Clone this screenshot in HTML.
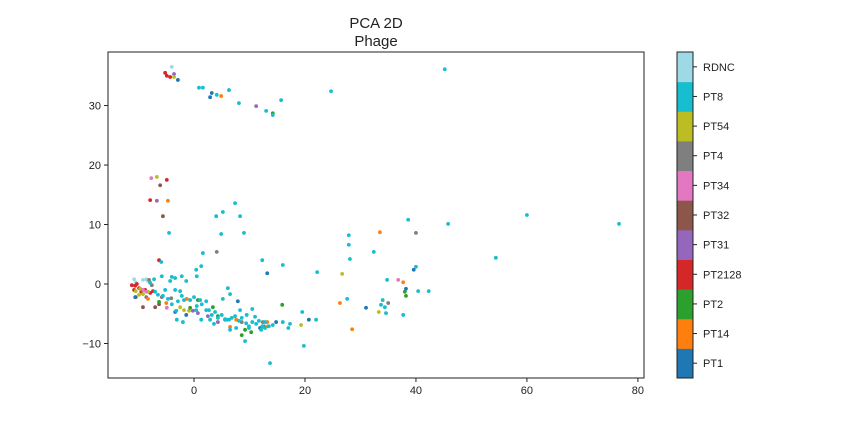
<!DOCTYPE html>
<html><head><meta charset="utf-8"><style>
body{margin:0;background:#fff;}
svg{display:block;font-family:"Liberation Sans",sans-serif;}
</style></head><body>
<svg id="chart" width="864" height="432">
<text x="376" y="28" font-size="15" text-anchor="middle" fill="#222">PCA 2D</text>
<text x="376" y="46" font-size="15" text-anchor="middle" fill="#222">Phage</text>
<g id="points"></g>
<rect x="108" y="52" width="536" height="326" fill="none" stroke="#222" stroke-width="1"/>
<g id="xaxis"></g>
<g id="yaxis"></g>
<g id="cbar"></g>
</svg>
<script>
const classes=["PT1","PT14","PT2","PT2128","PT31","PT32","PT34","PT4","PT54","PT8","RDNC"];
const colors=["#1f77b4","#ff7f0e","#2ca02c","#d62728","#9467bd","#8c564b","#e377c2","#7f7f7f","#bcbd22","#17becf","#9edae5"];
const xTicks=[0,20,40,60,80];
const yTicks=[-10,0,10,20,30];
const ptX=[-4,-5.2,-4.9,-4.3,-3.6,-3.6,-2.9,0.9,1.6,3.2,2.9,4.1,4.9,6.3,8.1,11.2,13,14.2,14.2,15.7,24.7,45.2,
-7.7,-6.7,-4.9,-6.1,-7.9,-6.7,-4.7,-5.6,-4.5,7.4,5.2,4,8.3,9,4.9,1.6,4.1,-6.3,-5.9,12.3,16,22.2,
27.9,27.9,28.1,32.4,33.5,38.6,40,45.8,60,76.6,54.4,26.7,40,39.6,36.8,37.7,34.8,38,38.2,38.2,40.4,42.3,34,35,34.4,33.7,34.6,26.3,27.6,31,33.3,37.7,28.5,22,20.7,19.5,15.9,19.3,17,13.7,19.8,
-10.8,-10.5,-9.2,-8.6,-8.3,
-11.2,-10.6,-10.3,-9.9,-10.8,-9.5,-8.8,-7.9,-7.4,-10.5,
-10.5,-9.7,-9.2,-8.3,-9.9,-2.5,-1.8,-0.9,
-8.1,-7.6,-8.6,-5.8,-4.1,5.6,8.6,12.4,12.6,
-9.2,-8.6,-4.9,-0.2,
-9.2,-7,-6.3,
-8.3,-1.3,-5,7.6,6.5,13.3,13.2,
-10.6,-3.4,-1.4,7.9,11.9,14.8,13.2,
0.7,3.4,4.3,9.2,8.6,10.3,12.6,-0.7,-6.3,
-0.2,0.7,2.5,4.3,
-7.2,-5.8,-7,-5.6,-4.7,-4,-2.9,-1.8,-2.2,-0.7,0,0.5,1.1,1.4,2.2,2.7,3.2,3.8,4.3,5,5.6,6.3,6.8,7.4,8.1,8.6,9.4,9.9,10.5,11.2,11.7,12.3,12.8,2.9,6.5,3.6,7.6,8.3,9.5,11,12.8,-4.3,-3.4,-2.2,0.4,0.5,-3.4,-2.5,-6.5,-5.2,-3.1,-2,0.4,2.2,6.1,6.5,10.5,5.2,-1.4,-7.9,-4,-3.2,1.3,5.9,12.1,9.9,13.5,14.2,16,17.3,1.3,9.2];
const ptY=[36.5,35.5,35,34.8,35.3,34.8,34.3,33,33,32.1,31.4,31.8,31.6,32.6,30.4,29.9,29.1,28.7,28.4,30.9,32.4,36.1,
17.8,18,17.5,16.6,14.1,14,14,11.4,8.6,13.6,12.1,11.4,11.4,8.6,8.4,5.2,5.4,4,3.7,4,3.2,2,
6.6,8.2,4.2,5.4,8.7,10.8,8.6,10.1,11.6,10.1,4.4,1.7,2.9,2.4,0.7,0.3,0.7,-1.3,-2,-0.8,-1.2,-1.2,-2.7,-3.2,-3.9,-3.5,-4.9,-3.2,-2.5,-4,-4.7,-5.2,-7.6,-6,-6,-4.7,-3.5,-6.9,-7.4,-13.3,-10.4,
0.8,0.3,0.7,0.8,0.5,
-0.2,-0.3,0,-0.7,-1,-1.3,-1,-1.5,-1.2,-2.2,
-1.2,-0.8,-1.7,-1.3,-1.8,-3.9,-4.4,-4.5,
0.7,-0.2,-2.2,-2.2,-2.4,-6,-6.4,-6.4,-7.1,
-1,-1.3,-4,-4.5,
-3.9,-3.9,-3.4,
-2.5,-2.5,-3.2,-6,-7.2,-7.1,-6.4,
-2.2,-4.7,-5.2,-2.9,-7.4,-6.4,1.8,
-2.7,-3.9,-5.4,-7.7,-8.6,-8.1,-7.2,-4,-3,
-4.5,-4.9,-5.4,-6.4,
0.8,1.3,-1.3,-2,-2.5,-3.4,-2.9,-2.7,-2,-2.7,-2.2,-3.7,-2.7,-3.4,-2.9,-4.4,-5.2,-4.7,-5.7,-5.2,-5.9,-6,-5.7,-5.4,-6.2,-5.7,-6.6,-7.1,-6.4,-6.7,-6.2,-7.1,-7.4,-6,-7.7,-6.7,-7.4,-4.4,-5.2,-5.5,-6.4,0.5,1,1.3,2.4,1.3,-1,-1.2,-1.8,-1,-6,-6.4,-4.4,-4.4,-0.7,-1.7,-4.2,-2.5,0.5,0.2,1.2,-4.5,-6,-6,-7.7,-7.4,-7.1,-6.9,-6.4,-6.7,3,-9.6];
const ptC=[10,3,3,3,4,8,0,9,9,0,0,9,1,9,9,4,9,2,9,9,9,9,
6,8,3,5,3,4,1,5,9,9,9,9,9,9,9,9,7,3,9,9,9,9,
9,9,9,9,1,9,7,9,9,9,9,8,9,0,6,1,9,2,2,0,9,9,9,7,9,9,9,1,9,0,8,9,1,9,0,9,2,8,9,9,9,
10,10,10,10,10,
3,3,3,3,3,3,3,3,3,3,
8,8,8,8,8,8,8,8,
7,7,7,7,7,7,7,7,7,
6,6,6,6,
5,5,5,
1,1,1,1,1,1,1,
0,0,0,0,0,0,0,
2,2,2,2,2,2,2,2,2,
4,4,4,4,
9,9,9,9,9,9,9,9,9,9,9,9,9,9,9,9,9,9,9,9,9,9,9,9,9,9,9,9,9,9,9,9,9,9,9,9,9,9,9,9,9,9,9,9,9,9,9,9,9,9,9,9,9,9,9,9,9,9,9,9,9,9,9,9,9,9,9,9,9,9,9,9];
const NS="http://www.w3.org/2000/svg";
const L=108,R=644,T=52,B=378,xMin=-15.5,xMax=81.1,yMin=-15.8,yMax=39;
function sx(v){return L+(v-xMin)/(xMax-xMin)*(R-L);}
function sy(v){return B-(v-yMin)/(yMax-yMin)*(B-T);}
function mk(tag,attrs,parent){const e=document.createElementNS(NS,tag);for(const k in attrs)e.setAttribute(k,attrs[k]);parent.appendChild(e);return e;}
const pg=document.getElementById('points');
for(let i=0;i<ptX.length;i++){
  const c=mk('circle',{cx:sx(ptX[i]),cy:sy(ptY[i]),r:1.9,fill:colors[ptC[i]]},pg);
  
  
}
const xg=document.getElementById('xaxis');
xTicks.forEach(v=>{
  const t=mk('line',{x1:sx(v),x2:sx(v),y1:B,y2:B+4,stroke:'#222'},xg);
  
  
  const l=mk('text',{x:sx(v),y:B+16,'font-size':11,'text-anchor':'middle',fill:'#222'},xg);
  l.textContent=v;
  
  
});
const yg=document.getElementById('yaxis');
yTicks.forEach(v=>{
  const t=mk('line',{x1:L-4,x2:L,y1:sy(v),y2:sy(v),stroke:'#222'},yg);
  
  
  const l=mk('text',{x:L-7,y:sy(v)+4,'font-size':11,'text-anchor':'end',fill:'#222'},yg);
  l.textContent=(v<0?'\u2212'+(-v):v);
  
  
});
const cg=document.getElementById('cbar');
const cx=677,cw=16,segH=(B-T)/classes.length;
classes.forEach((n,i)=>{
  const y0=B-(i+1)*segH;
  const r=mk('rect',{x:cx,y:y0,width:cw,height:segH+0.5,fill:colors[i]},cg);
  
  
  const t=mk('line',{x1:cx+cw,x2:cx+cw+4,y1:y0+segH/2,y2:y0+segH/2,stroke:'#222'},cg);
  
  
  const l=mk('text',{x:703,y:y0+segH/2+4,'font-size':11,fill:'#222'},cg);
  l.textContent=n;
  
  
});
const fr=mk('rect',{x:cx,y:T,width:cw,height:B-T,fill:'none',stroke:'#222'},cg);


</script>
</body></html>
